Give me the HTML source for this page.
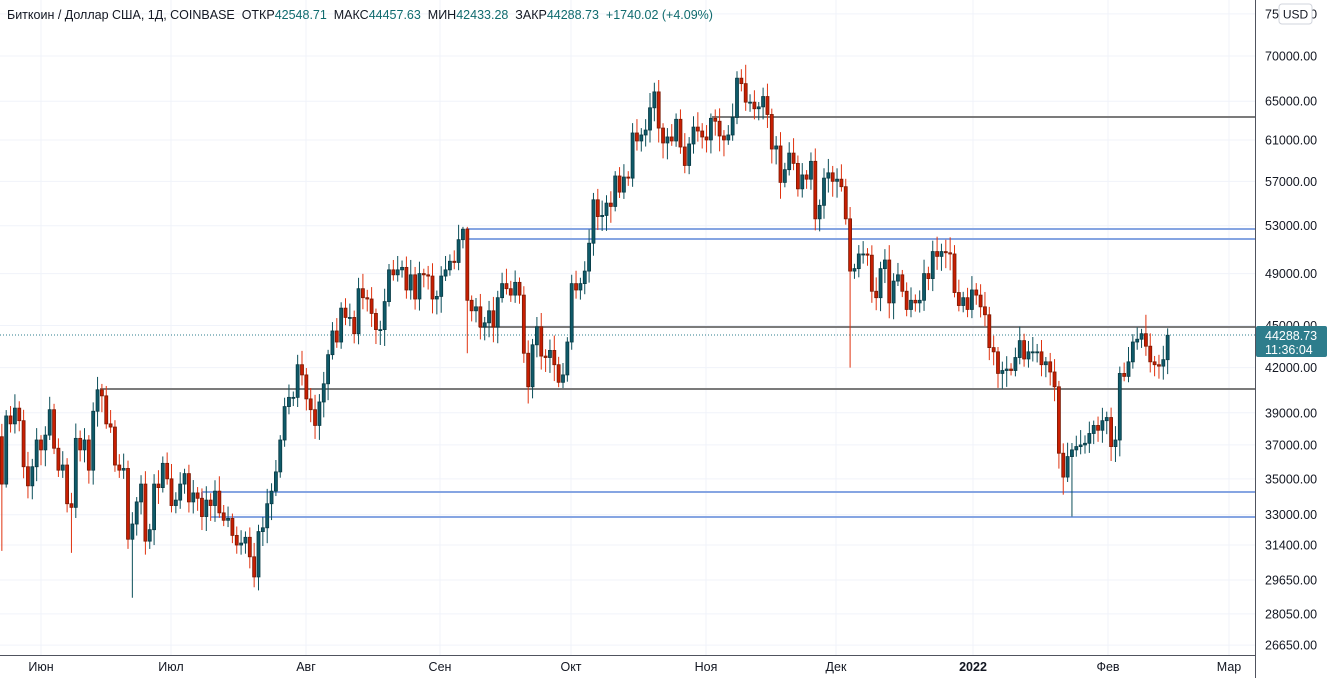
<!DOCTYPE html>
<html><head><meta charset="utf-8">
<style>
html,body{margin:0;padding:0;background:#fff;}
body{width:1330px;height:678px;overflow:hidden;font-family:"Liberation Sans",sans-serif;}
</style></head>
<body>
<svg id="c" width="1330" height="678" xmlns="http://www.w3.org/2000/svg" style="position:absolute;left:0;top:0"></svg>
<script>
var svg=document.getElementById('c');
var h='';
function Y(p){return 56+Math.log(70000/p)*610;}
var px=4.35;
var jun1=41;
function X(d){ // d = Date
  var base=new Date(Date.UTC(2021,5,1));
  return jun1+Math.round((d-base)/86400000)*px;
}
// grid
var levels=[75000,70000,65000,61000,57000,53000,49000,45000,42000,39000,37000,35000,33000,31400,29650,28050,26650];
levels.forEach(function(p){var y=Y(p);h+='<line x1="0" x2="1255" y1="'+y+'" y2="'+y+'" stroke="#f0f3fa" stroke-width="1"/>';});
var months=[['Июн',41],['Июл',171],['Авг',306],['Сен',440],['Окт',571],['Ноя',706],['Дек',836],['2022',973],['Фев',1108],['Мар',1229]];
months.forEach(function(m){h+='<line x1="'+m[1]+'" x2="'+m[1]+'" y1="0" y2="655" stroke="#f0f3fa" stroke-width="1"/>';});
// closes from 2021-05-21 (first is previous close)
var closes=[40500,37500,34700,38800,38300,39300,38500,35700,34600,35700,37300,
36700,37600,39200,36800,35500,35800,33600,33400,37400,36700,37300,35500,39100,40500,40100,38300,38100,35800,35500,35600,31700,32500,33700,34700,31600,32200,34700,34500,35900,35000,
33500,33800,34700,35300,33700,34200,33900,32900,33800,33500,34300,33100,32700,32800,31900,31400,31500,31800,30800,29800,32100,32300,33600,34300,35400,37300,39400,40000,40000,42200,41500,
39900,39200,38200,39700,40900,42900,44600,43800,46300,45600,45600,44400,47800,47100,47000,45900,44700,44700,46800,49300,48900,49300,49500,47700,48900,47000,49000,48900,48800,47000,47200,
48800,49300,50000,49900,51800,52700,46900,46100,46400,44900,45200,46100,44900,47100,48200,47800,47300,48300,47300,43000,40700,43600,44900,42800,42700,43200,42200,41000,41500,43800,
48200,47700,48200,49200,51500,55300,53800,53900,55000,54700,57500,56000,57400,57300,61700,60900,61500,62000,64300,66000,62200,60700,61300,60900,63100,60300,58500,60600,62300,61900,61300,
61000,63200,62900,61400,61000,61500,63300,67500,66900,64900,64900,64200,64400,65500,63600,60100,60400,56900,58100,59700,58700,56300,57600,57200,58900,53600,54800,57300,57800,57000,
57200,56500,53600,49200,49400,50600,50600,50500,47600,47100,49400,50100,46700,48400,48900,47600,46200,46900,46700,46900,49000,48600,50800,50400,50800,50700,50600,47500,46500,47100,46200,
47700,47300,46400,45800,43400,43100,41600,41800,41900,41800,42700,43900,42600,43100,43100,43100,42200,42400,41700,40700,36500,35100,36300,36700,36900,37000,37100,37700,38200,37900,38500,
38700,36900,37300,41600,41400,42400,43800,44000,44400,43500,42400,42200,42100,42550,44289];
var ov={'2021-05-23':[null,31100],'2021-06-08':[null,31000],'2021-06-22':[null,28800],'2021-07-20':[null,29300],'2021-09-07':[52900,43000],'2021-09-21':[null,39600],'2021-12-04':[null,42000],'2022-01-24':[null,32900],'2021-11-10':[69000,null],'2021-11-09':[68500,null],'2021-10-20':[67000,null],'2022-02-10':[45800,null],'2021-12-27':[52000,null],'2021-05-24':[null,34500],'2021-06-26':[null,31200],'2022-01-22':[null,34100],'2021-09-06':[52900,null]};
var start=new Date(Date.UTC(2021,4,22));
var candles='';
for(var i=1;i<closes.length;i++){
  var d=new Date(start.getTime()+(i-1)*86400000);
  var key=d.toISOString().slice(0,10);
  var o=closes[i-1],c=closes[i];
  if(i==closes.length-1)o=42548.71;
  var hi=Math.max(o,c)*(1+0.008+((i*37)%11)/600);
  var lo=Math.min(o,c)*(1-0.008-((i*53)%13)/650);
  if(ov[key]){if(ov[key][0])hi=ov[key][0];if(ov[key][1])lo=ov[key][1];}
  var x=X(d);
  var up=c>=o;
  var wick=up?'#0c4f5a':'#e0330f', fill=up?'#0f5a69':'#c81e02', br=up?'#083a44':'#7a1a04';
  var yt=Y(Math.max(o,c)), yb=Y(Math.min(o,c)); if(yb-yt<1)yb=yt+1;
  candles+='<line x1="'+x+'" x2="'+x+'" y1="'+Y(hi)+'" y2="'+Y(lo)+'" stroke="'+wick+'" stroke-width="1"/>';
  candles+='<rect x="'+(x-1.5)+'" y="'+yt+'" width="3" height="'+(yb-yt)+'" fill="'+fill+'" stroke="'+br+'" stroke-width="0.8"/>';
}
// horizontal drawn lines
h+='<line x1="0" x2="1255" y1="335" y2="335" stroke="#2e7d8c" stroke-width="1" stroke-dasharray="1,2"/>';
h+='<line x1="100" x2="1255" y1="389" y2="389" stroke="#7b7b7b" stroke-width="2"/>';
h+='<line x1="479" x2="1255" y1="327" y2="327" stroke="#7b7b7b" stroke-width="2"/>';
h+='<line x1="712" x2="1255" y1="117" y2="117" stroke="#7b7b7b" stroke-width="2"/>';
h+='<line x1="466" x2="1255" y1="229" y2="229" stroke="#86a5e2" stroke-width="2"/>';
h+='<line x1="466" x2="1255" y1="239" y2="239" stroke="#86a5e2" stroke-width="2"/>';
h+='<line x1="202" x2="1255" y1="492" y2="492" stroke="#86a5e2" stroke-width="2"/>';
h+='<line x1="211" x2="1255" y1="517" y2="517" stroke="#86a5e2" stroke-width="2"/>';
h+='<line x1="202" x2="202" y1="492" y2="517" stroke="#86a5e2" stroke-width="2"/>';
h+=candles;
// axes
h+='<rect x="1256" y="0" width="74" height="678" fill="#fff"/>';
h+='<rect x="0" y="656" width="1256" height="22" fill="#fff"/>';
h+='<line x1="1255.5" x2="1255.5" y1="0" y2="678" stroke="#50535e" stroke-width="1"/>';
h+='<line x1="0" x2="1256" y1="655.5" y2="655.5" stroke="#50535e" stroke-width="1"/>';
levels.forEach(function(p){var y=Y(p);h+='<text x="1265" y="'+(y+4.5)+'" font-size="12.5" fill="#131722">'+p.toFixed(2)+'</text>';});
months.forEach(function(m){h+='<text x="'+m[1]+'" y="671" font-size="12.5" fill="#131722" text-anchor="middle"'+(m[0]=='2022'?' font-weight="bold"':'')+'>'+m[0]+'</text>';});
h+='<rect x="1256" y="326" width="71" height="31" rx="2" fill="#2e7d8c"/>';
h+='<text x="1265" y="340" font-size="12.5" fill="#fff">44288.73</text>';
h+='<text x="1265" y="354" font-size="12.5" fill="#fff">11:36:04</text>';
h+='<rect x="1279" y="4" width="33" height="20" rx="3" fill="#fff" stroke="#d1d4dc"/>';
h+='<text x="1295.5" y="18.5" font-size="12" fill="#131722" text-anchor="middle">USD</text>';
// header
h+='<text x="7" y="19" font-size="12.5" fill="#131722" xml:space="preserve">Биткоин / Доллар США, 1Д, COINBASE  ОТКР<tspan fill="#0f6b6e">42548.71</tspan>  МАКС<tspan fill="#0f6b6e">44457.63</tspan>  МИН<tspan fill="#0f6b6e">42433.28</tspan>  ЗАКР<tspan fill="#0f6b6e">44288.73</tspan> <tspan fill="#0f6b6e"> +1740.02 (+4.09%)</tspan></text>';
svg.innerHTML=h;
</script>
</body></html>
